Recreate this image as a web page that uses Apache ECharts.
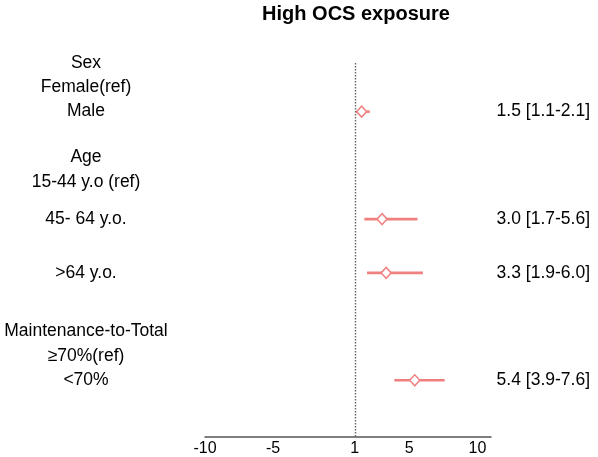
<!DOCTYPE html>
<html>
<head>
<meta charset="utf-8">
<script src="https://cdn.jsdelivr.net/npm/echarts@6/dist/echarts.min.js"></script>
<style>html,body{margin:0;padding:0;background:#fff}#c{width:598px;height:457px}</style>
</head>
<body>
<div id="c"></div>
<script>
// Rows (top to bottom); group headers are part of the row label text
const rowLabels = ['Sex\nFemale(ref)\nMale', 'Age\n15-44 y.o (ref)', '45- 64 y.o.', '>64 y.o.', '', 'Maintenance-to-Total\n≥70%(ref)\n<70%'];
const orValues = [1.5, null, 3.0, 3.3, null, 5.4];
const ciLow    = [1.1, null, 1.7, 1.9, null, 3.9];
const ciHigh   = [2.1, null, 5.6, 6.0, null, 7.6];
const xTicks = [-10, -5, 1, 5, 10];
const refLine = 1;
const title = 'High OCS exposure';

const FONT = 'Liberation Sans, Arial, Helvetica, sans-serif';
const COLOR = '#F08080';
const OFF = 2;            // row position = index + OFF
const ROW_PX = 54;
const LINE = 24.5 / ROW_PX;   // one text line, in row units
const HEADER_SHIFT = 4.5 / ROW_PX;

// one axis label per text line
const leftEntries = [];
rowLabels.forEach((t, i) => {
  if (!t) return;
  const lines = t.split('\n');
  const n = lines.length;
  lines.forEach((l, k) => {
    const v = orValues[i] != null
      ? i + OFF - (n - 1 - k) * LINE
      : i + OFF + (k - (n - 1) / 2) * LINE + HEADER_SHIFT;
    leftEntries.push({v: +v.toFixed(4), text: l});
  });
});
function leftText(p) {
  let best = null, d = Infinity;
  leftEntries.forEach(e => { const dd = Math.abs(e.v - p); if (dd < d) { d = dd; best = e; } });
  return best && d < 1e-3 ? best.text : '';
}

const dataIdx = orValues.map((v, i) => v != null ? i + OFF : -1).filter(i => i >= 0);
const rightText = orValues.map((v, i) => v == null ? '' : v.toFixed(1) + ' [' + ciLow[i].toFixed(1) + '-' + ciHigh[i].toFixed(1) + ']');

const ciData = orValues.map((v, i) => v == null ? null : [ciLow[i], ciHigh[i], i + OFF]).filter(d => d);
const ptData = orValues.map((v, i) => v == null ? null : [v, i + OFF]).filter(d => d);

const GRID_TOP = 40, FIRST_ROW_PX = 112, BOTTOM_PX = 439, REF_TOP_PX = 63;
const yMin = OFF - (FIRST_ROW_PX - GRID_TOP) / ROW_PX;
const yMax = OFF + (BOTTOM_PX - FIRST_ROW_PX) / ROW_PX;
const refTop = OFF - (FIRST_ROW_PX - REF_TOP_PX) / ROW_PX;

const chart = echarts.init(document.getElementById('c'), null, {renderer: 'canvas'});
chart.setOption({
  animation: false,
  backgroundColor: '#fff',
  textStyle: {fontFamily: FONT},
  title: {
    text: title, left: 351, top: -1, textAlign: 'center',
    textStyle: {fontFamily: FONT, fontWeight: 'bold', fontSize: 20, color: '#000'}
  },
  grid: {left: 205, right: 107, top: GRID_TOP, bottom: 457 - BOTTOM_PX, containLabel: false},
  xAxis: {
    type: 'value', min: -10, max: 11,
    splitLine: {show: false},
    axisTick: {show: false},
    axisLine: {show: true, onZero: false, lineStyle: {color: '#555', width: 1.5}},
    axisLabel: {customValues: xTicks, color: '#000', fontSize: 16, margin: 4, fontFamily: FONT}
  },
  yAxis: [{
    type: 'value', inverse: true, min: yMin, max: yMax,
    position: 'left',
    splitLine: {show: false}, axisLine: {show: false, onZero: false}, axisTick: {show: false},
    axisLabel: {
      customValues: leftEntries.map(e => e.v), align: 'center', margin: 119, hideOverlap: false,
      showMinLabel: true, showMaxLabel: true,
      color: '#000', fontSize: 17.5, fontFamily: FONT,
      formatter: leftText
    }
  }, {
    type: 'value', inverse: true, min: yMin, max: yMax,
    position: 'right',
    splitLine: {show: false}, axisLine: {show: false, onZero: false}, axisTick: {show: false},
    axisLabel: {
      customValues: dataIdx, align: 'right', margin: 99, hideOverlap: false,
      showMinLabel: true, showMaxLabel: true,
      color: '#000', fontSize: 17.5, fontFamily: FONT,
      formatter: p => rightText[Math.round(p) - OFF] || ''
    }
  }],
  series: [{
    type: 'custom',
    data: ciData,
    renderItem: (params, api) => {
      const a = api.coord([api.value(0), api.value(2)]);
      const b = api.coord([api.value(1), api.value(2)]);
      return {type: 'line', shape: {x1: a[0], y1: a[1], x2: b[0], y2: b[1]},
        style: {stroke: COLOR, lineWidth: 2.6}};
    },
    encode: {x: [0, 1], y: 2},
    z: 2,
    markLine: {
      silent: true, symbol: 'none', label: {show: false},
      lineStyle: {color: '#666', type: [1.5, 1.5], width: 1.4},
      data: [[{coord: [refLine, refTop]}, {coord: [refLine, yMax]}]]
    }
  }, {
    type: 'scatter',
    data: ptData,
    symbol: 'diamond', symbolSize: [10, 11],
    itemStyle: {color: '#fff', borderColor: COLOR, borderWidth: 1.5, opacity: 1},
    z: 3
  }]
});
</script>
</body>
</html>
